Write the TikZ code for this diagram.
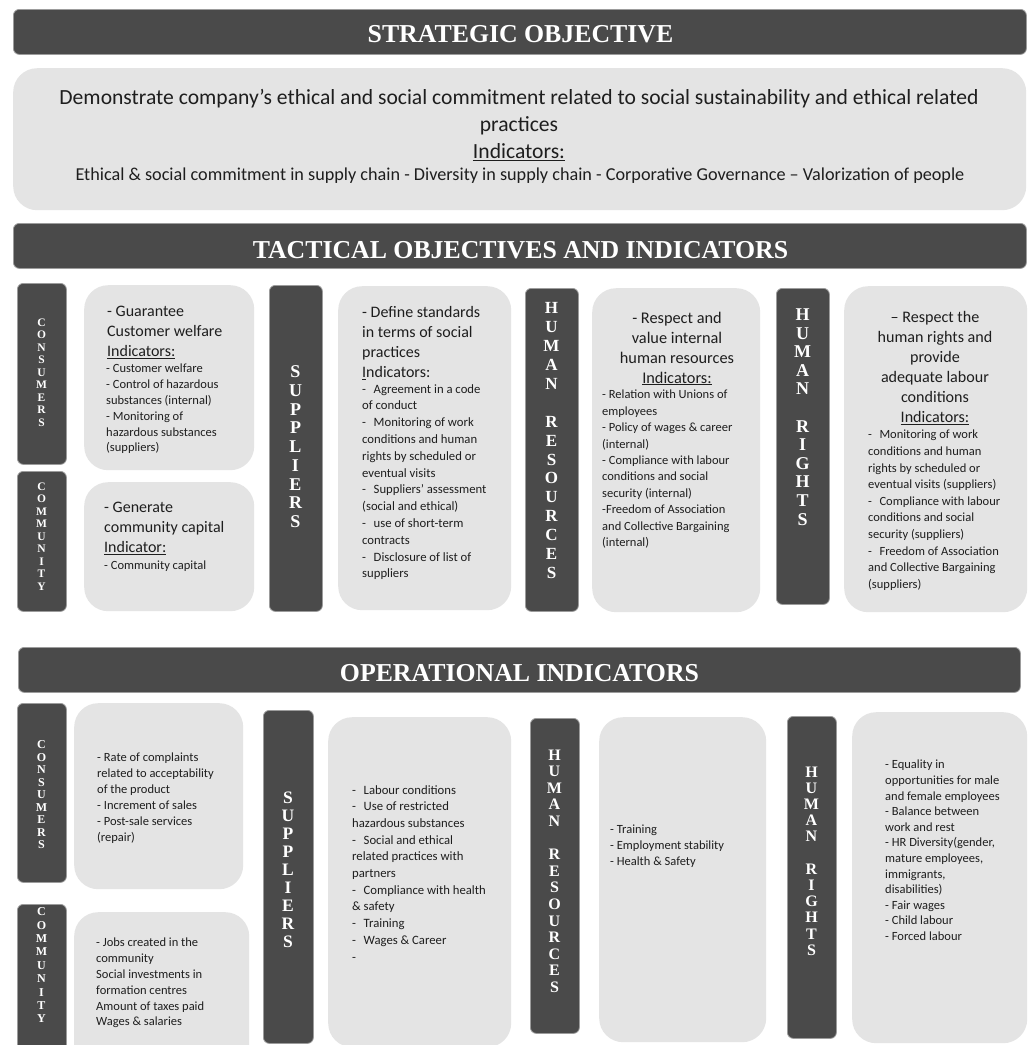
\documentclass[tikz,border=0pt]{standalone}
\usepackage{fontspec}
\setmainfont{Carlito}
\newfontfamily\serifbold{Liberation Serif}[BoldFont={Liberation Serif Bold}]
\newcommand\fs[2]{\fontsize{#1}{#2}\selectfont}
\definecolor{dk}{HTML}{4A4A4A}
\definecolor{lt}{HTML}{E4E4E4}
\definecolor{bd}{HTML}{9C9C9C}
\definecolor{ink}{HTML}{1E1E1E}
\tikzset{
  darkbar/.style={fill=dk, draw=bd, line width=0.8pt, rounded corners=6pt, anchor=north west, inner sep=0pt},
  lightbox/.style={fill=lt, draw=none, rounded corners=24pt, anchor=north west, inner sep=0pt},
  title/.style={text=white, font=\serifbold\bfseries\fs{25.8}{30}, inner sep=0pt, anchor=center},
  vlabel/.style={text=white, inner sep=0pt, anchor=north, align=center},
  txt/.style={text=ink, inner sep=0pt, anchor=north west, align=left},
  ctxt/.style={text=ink, inner sep=0pt, anchor=north, align=center},
}
\begin{document}
\begin{tikzpicture}[x=1pt, y=-1pt]
\useasboundingbox (0,0) rectangle (1033,1045);
\fill[white] (0,0) rectangle (1033,1045);

% ---------------- Strategic ----------------
\node[darkbar, minimum width=1013pt, minimum height=45pt] (sbar) at (13,9) {};
\node[title] (stitle) at (520.5,34) {STRATEGIC OBJECTIVE};
\node[lightbox, minimum width=1013pt, minimum height=142pt] (sbox) at (13,68) {};
\node[ctxt, font=\fs{21.6}{27}] (stext) at (519,89.3)
  {Demonstrate company’s ethical and social commitment related to social sustainability and ethical related\\practices\\\underline{Indicators:}};
\node[ctxt, font=\fs{18.2}{20}] (sind) at (520,167.7)
  {Ethical \& social commitment in supply chain - Diversity in supply chain - Corporative Governance – Valorization of people};

% ---------------- Tactical ----------------
\node[darkbar, minimum width=1013pt, minimum height=45pt] (tbar) at (13,223) {};
\node[title] (ttitle) at (520.5,250) {TACTICAL OBJECTIVES AND INDICATORS};

% dark side bars
\node[darkbar, minimum width=49pt, minimum height=181pt] (tcons) at (17,283) {};
\node[darkbar, minimum width=49pt, minimum height=140pt] (tcomm) at (17,471) {};
\node[darkbar, minimum width=53pt, minimum height=326pt] (tsupp) at (269,285) {};
\node[darkbar, minimum width=53pt, minimum height=323pt] (thr) at (525,288) {};
\node[darkbar, minimum width=53pt, minimum height=316pt] (thrr) at (776,288) {};
% light boxes
\node[lightbox, minimum width=170pt, minimum height=185pt] (tconsb) at (84,285) {};
\node[lightbox, minimum width=170pt, minimum height=129pt] (tcommb) at (84,482) {};
\node[lightbox, minimum width=173pt, minimum height=324pt] (tsuppb) at (338,286) {};
\node[lightbox, minimum width=168pt, minimum height=324pt] (thrb) at (592,288) {};
\node[lightbox, minimum width=183pt, minimum height=326pt] (thrrb) at (844,286) {};

% vertical labels
\node[vlabel, font=\serifbold\bfseries\fs{11.5}{12.5}] (lcons1) at (41.5,318.5) {C\\O\\N\\S\\U\\M\\E\\R\\S};
\node[vlabel, font=\serifbold\bfseries\fs{11.5}{12.5}] (lcomm1) at (41.5,482.5) {C\\O\\M\\M\\U\\N\\I\\T\\Y};
\node[vlabel, font=\serifbold\bfseries\fs{18}{18.75}] (lsupp1) at (295.5,365.5) {S\\U\\P\\P\\L\\I\\E\\R\\S};
\node[vlabel, font=\serifbold\bfseries\fs{17}{18.9}] (lhr1) at (551.5,302.5) {H\\U\\M\\A\\N\\[18.9pt]R\\E\\S\\O\\U\\R\\C\\E\\S};
\node[vlabel, font=\serifbold\bfseries\fs{18}{18.6}] (lhrr1) at (802.5,308.5) {H\\U\\M\\A\\N\\[18.6pt]R\\I\\G\\H\\T\\S};

% texts
\node[txt, font=\fs{16}{20}] (tconsh) at (107,305.6) {- Guarantee\\Customer welfare\\\underline{Indicators:}};
\node[txt, font=\fs{12.5}{15.8}] (tconsi) at (106,364)
  {- Customer welfare\\- Control of hazardous\\substances (internal)\\- Monitoring of\\hazardous substances\\(suppliers)};
\node[txt, font=\fs{16}{20}] (tcommh) at (104,501.6) {- Generate\\community capital\\\underline{Indicator:}};
\node[txt, font=\fs{12.5}{15.8}] (tcommi) at (104,561) {- Community capital};

\node[txt, font=\fs{16}{20}] (tsupph) at (362,306.6) {- Define standards\\in terms of social\\practices\\\underline{I}ndicators:};
\node[txt, font=\fs{12.7}{16.8}] (tsuppi) at (362,384)
  {-\hspace{0.6em}Agreement in a code\\of conduct\\-\hspace{0.6em}Monitoring of work\\conditions and human\\rights by scheduled or\\eventual visits\\-\hspace{0.6em}Suppliers’ assessment\\(social and ethical)\\-\hspace{0.6em}use of short-term\\contracts\\-\hspace{0.6em}Disclosure of list of\\suppliers};

\node[ctxt, font=\fs{16.3}{20}] (thrh) at (677,311.5) {- Respect and\\value internal\\human resources\\\underline{Indicators:}};
\node[txt, font=\fs{12.5}{16.4}] (thri) at (602,390)
  {- Relation with Unions of\\employees\\- Policy of wages \& career\\(internal)\\- Compliance with labour\\conditions and social\\security (internal)\\-Freedom of Association\\and Collective Bargaining\\(internal)};

\node[ctxt, font=\fs{16.1}{20}] (thrrh) at (935,311.6) {– Respect the\\human rights and\\provide\\adequate labour\\conditions\\\underline{Indicators:}};
\node[txt, font=\fs{12.5}{16.6}] (thrri) at (868,430)
  {-\hspace{0.6em}Monitoring of work\\conditions and human\\rights by scheduled or\\eventual visits (suppliers)\\-\hspace{0.6em}Compliance with labour\\conditions and social\\security (suppliers)\\-\hspace{0.6em}Freedom of Association\\and Collective Bargaining\\(suppliers)};

% ---------------- Operational ----------------
\node[darkbar, minimum width=1002pt, minimum height=45pt] (obar) at (18,647) {};
\node[title] (otitle) at (519.5,673.5) {OPERATIONAL INDICATORS};

\node[darkbar, minimum width=49pt, minimum height=179pt] (ocons) at (17,703) {};
\node[darkbar, minimum width=49pt, minimum height=160pt] (ocomm) at (17,904) {};
\node[darkbar, minimum width=50pt, minimum height=333pt] (osupp) at (263,710) {};
\node[darkbar, minimum width=49pt, minimum height=315pt] (ohr) at (530,718) {};
\node[darkbar, minimum width=49pt, minimum height=322pt] (ohrr) at (787,716) {};

\node[lightbox, minimum width=169pt, minimum height=186pt] (oconsb) at (74,703) {};
\node[lightbox, minimum width=175pt, minimum height=160pt] (ocommb) at (74,912) {};
\node[lightbox, minimum width=183pt, minimum height=330pt] (osuppb) at (328,717) {};
\node[lightbox, minimum width=167pt, minimum height=325pt] (ohrb) at (599,717) {};
\node[lightbox, minimum width=175pt, minimum height=331pt] (ohrrb) at (852,712) {};

\node[vlabel, font=\serifbold\bfseries\fs{12}{12.5}] (lcons2) at (41.5,740.5) {C\\O\\N\\S\\U\\M\\E\\R\\S};
\node[vlabel, font=\serifbold\bfseries\fs{12}{13.4}] (lcomm2) at (41.5,907.5) {C\\O\\M\\M\\U\\N\\I\\T\\Y};
\node[vlabel, font=\serifbold\bfseries\fs{17.5}{18}] (lsupp2) at (288,791.5) {S\\U\\P\\P\\L\\I\\E\\R\\S};
\node[vlabel, font=\serifbold\bfseries\fs{16}{16.6}] (lhr2) at (554.5,749.5) {H\\U\\M\\A\\N\\[16.6pt]R\\E\\S\\O\\U\\R\\C\\E\\S};
\node[vlabel, font=\serifbold\bfseries\fs{16}{16.2}] (lhrr2) at (811.5,766.5) {H\\U\\M\\A\\N\\[16.2pt]R\\I\\G\\H\\T\\S};

\node[txt, font=\fs{12.5}{16}] (oconsi) at (97,753)
  {- Rate of complaints\\related to acceptability\\of the product\\- Increment of sales\\- Post-sale services\\(repair)};
\node[txt, font=\fs{12.5}{15.8}] (ocommi) at (96,938)
  {- Jobs created in the\\community\\Social investments in\\formation centres\\Amount of taxes paid\\Wages \& salaries};
\node[txt, font=\fs{12.7}{16.7}] (osuppi) at (352,785)
  {-\hspace{0.6em}Labour conditions\\-\hspace{0.6em}Use of restricted\\hazardous substances\\-\hspace{0.6em}Social and ethical\\related practices with\\partners\\-\hspace{0.6em}Compliance with health\\\& safety\\-\hspace{0.6em}Training\\-\hspace{0.6em}Wages \& Career\\-};
\node[txt, font=\fs{12.5}{16}] (ohri) at (610,825)
  {- Training\\- Employment stability\\- Health \& Safety};
\node[txt, font=\fs{12.5}{15.6}] (ohrri) at (885,760)
  {- Equality in\\opportunities for male\\and female employees\\- Balance between\\work and rest\\- HR Diversity(gender,\\mature employees,\\immigrants,\\disabilities)\\- Fair wages\\- Child labour\\- Forced labour};
\end{tikzpicture}
\end{document}
